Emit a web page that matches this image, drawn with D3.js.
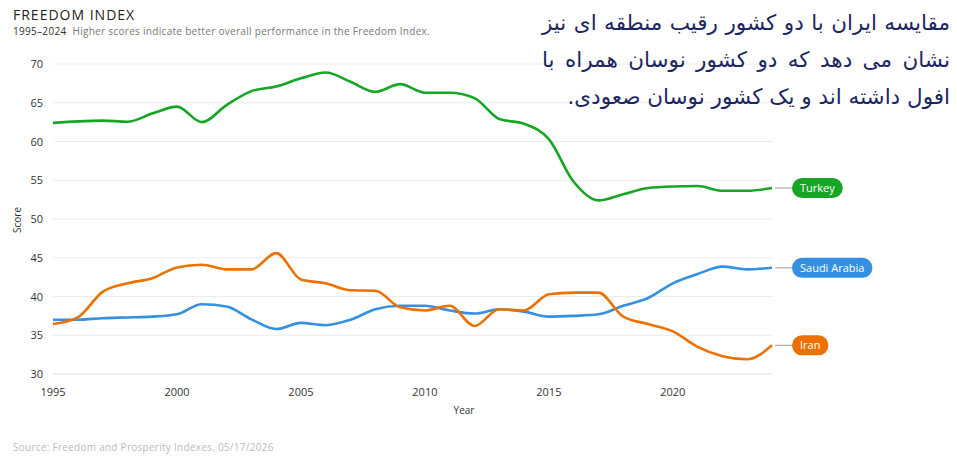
<!DOCTYPE html>
<html>
<head>
<meta charset="utf-8">
<script src="https://cdn.jsdelivr.net/npm/d3@7"></script>
<style>
  body { margin: 0; background: #fff; font-family: "Open Sans", Lato, sans-serif; }
  #wrap { position: relative; width: 957px; height: 462px; overflow: hidden; }
  #note {
    position: absolute; left: 542px; top: 4px; width: 408px;
    direction: rtl; font-family: "DejaVu Sans", sans-serif; font-size: 21.5px;
    color: #1c2660; line-height: 37px;
  }
  #note div { text-align: justify; text-align-last: justify; white-space: nowrap; }
  #note div.last { text-align-last: right; }
</style>
</head>
<body>
<div id="wrap">
  <svg id="chart" width="957" height="462"></svg>
  <div id="note">
    <div>مقایسه ایران با دو کشور رقیب منطقه ای نیز</div>
    <div>نشان می دهد که دو کشور نوسان همراه با</div>
    <div class="last">افول داشته اند و یک کشور نوسان صعودی.</div>
  </div>
</div>
<script>
let years = d3.range(1995, 2025);
let countries = ["Turkey", "Saudi Arabia", "Iran"];
let colors = ["#16a524", "#3590e2", "#ec7102"];
let turkey = [62.4, 62.6, 62.7, 62.55, 63.6, 64.5, 62.5, 64.7, 66.5, 67.1,
  68.15, 68.9, 67.7, 66.4, 67.4, 66.3, 66.3, 65.6, 62.9, 62.3,
  60.3, 54.8, 52.4, 53.2, 54.0, 54.2, 54.25, 53.65, 53.65, 54.0];
let saudi = [37.0, 37.0, 37.2, 37.3, 37.4, 37.7, 39.0, 38.7, 37.05, 35.8,
  36.6, 36.3, 37.0, 38.35, 38.8, 38.8, 38.2, 37.8, 38.35, 38.05,
  37.4, 37.5, 37.7, 38.8, 39.8, 41.7, 42.9, 43.85, 43.5, 43.7];
let iran = [36.45, 37.3, 40.6, 41.7, 42.35, 43.75, 44.1, 43.5, 43.5, 45.6,
  42.2, 41.7, 40.8, 40.75, 38.6, 38.2, 38.8, 36.2, 38.35, 38.2,
  40.3, 40.5, 40.5, 37.4, 36.45, 35.5, 33.5, 32.3, 31.9, 33.7];
let seriesValues = [turkey, saudi, iran];
let yTicks = [30, 35, 40, 45, 50, 55, 60, 65, 70];
let xTicks = [1995, 2000, 2005, 2010, 2015, 2020];

const svg = d3.select("#chart");
const x = d3.scaleLinear().domain([1995, 2024]).range([53, 772]);
const y = d3.scaleLinear().domain([30, 70]).range([374, 64]);

// titles
svg.append("text").attr("x", 13).attr("y", 20)
  .style("font-size", "14px").style("letter-spacing", "1px")
  .style("fill", "#222").text("FREEDOM INDEX");
let sub = svg.append("text").attr("x", 13).attr("y", 35)
  .style("font-size", "10px").style("letter-spacing", "0.3px");
sub.append("tspan").style("fill", "#333").text("1995–2024");
sub.append("tspan").attr("dx", 6).style("fill", "#777")
  .text("Higher scores indicate better overall performance in the Freedom Index.");

// grid
svg.append("g").selectAll("line").data(yTicks).enter().append("line")
  .attr("x1", 53).attr("x2", 773)
  .attr("y1", d => y(d)).attr("y2", d => y(d))
  .attr("stroke", d => d === 30 ? "#e2e2e2" : "#ececec").attr("stroke-width", 1);

// y axis labels
svg.append("g").selectAll("text").data(yTicks).enter().append("text")
  .attr("x", 43).attr("y", d => y(d) + 4).attr("text-anchor", "end")
  .style("font-size", "11px").style("fill", "#333").text(d => d);

// x axis labels
svg.append("g").selectAll("text").data(xTicks).enter().append("text")
  .attr("x", d => x(d)).attr("y", 396).attr("text-anchor", "middle")
  .style("font-size", "11px").style("fill", "#333").text(d => d);

svg.append("text").attr("x", 464).attr("y", 414).attr("text-anchor", "middle")
  .style("font-size", "10px").style("fill", "#333").text("Year");
svg.append("text").attr("transform", "translate(21,220) rotate(-90)")
  .attr("text-anchor", "middle")
  .style("font-size", "10px").style("fill", "#333").text("Score");

// lines
const line = d3.line().x((d, i) => x(years[i])).y(d => y(d)).curve(d3.curveMonotoneX);
seriesValues.forEach((vals, k) => {
  svg.append("path").datum(vals).attr("d", line)
    .attr("fill", "none").attr("stroke", colors[k]).attr("stroke-width", 2.6)
    .attr("stroke-linejoin", "round");
});

// end labels
seriesValues.forEach((vals, k) => {
  const yy = y(vals[vals.length - 1]);
  svg.append("line").attr("x1", 775).attr("x2", 792).attr("y1", yy).attr("y2", yy)
    .attr("stroke", "#aaa").attr("stroke-width", 1.2);
  const g = svg.append("g");
  const t = g.append("text").attr("x", 800).attr("y", yy + 4)
    .style("font-size", "11px").style("fill", "#fff").text(countries[k]);
  const w = t.node().getComputedTextLength();
  g.insert("rect", "text").attr("x", 792).attr("y", yy - 10)
    .attr("width", w + 16).attr("height", 20).attr("rx", 10)
    .attr("fill", colors[k]);
});

svg.append("text").attr("x", 13).attr("y", 451)
  .style("font-size", "10px").style("letter-spacing", "0.27px").style("fill", "#bbb")
  .text("Source: Freedom and Prosperity Indexes, 05/17/2026");
</script>
</body>
</html>
